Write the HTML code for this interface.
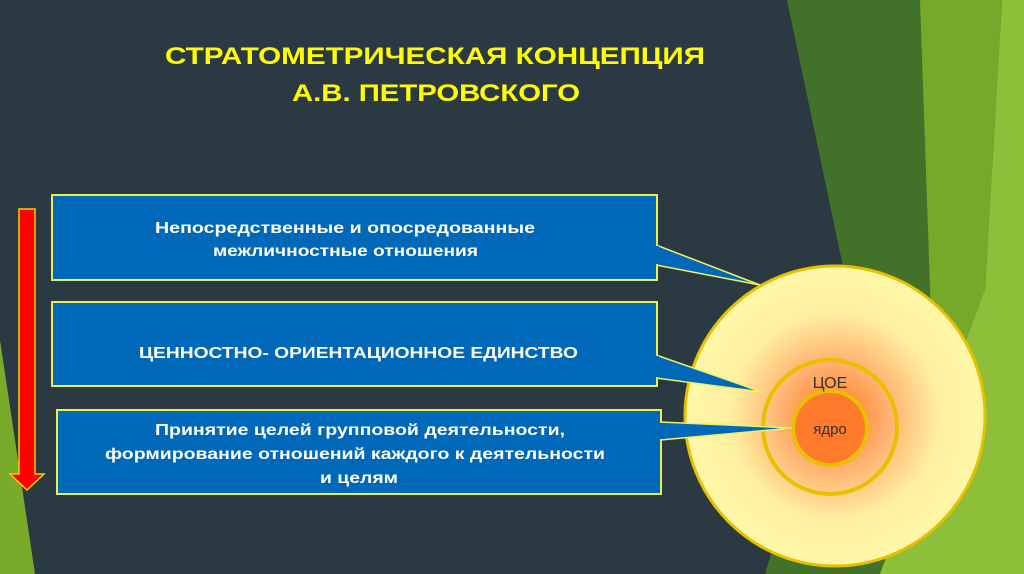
<!DOCTYPE html>
<html><head><meta charset="utf-8"><style>
html,body{margin:0;padding:0;width:1024px;height:574px;overflow:hidden;background:#2b3a42}
svg{display:block}
text{font-family:"Liberation Sans",sans-serif}
</style></head><body>
<svg width="1024" height="574" viewBox="0 0 1024 574">
<defs>
<radialGradient id="g1" cx="0.5" cy="0.5" r="0.5">
<stop offset="0" stop-color="#ff7a1a"/><stop offset="0.35" stop-color="#ffb070"/><stop offset="0.7" stop-color="#fff0a0"/><stop offset="1" stop-color="#fff8a8"/>
</radialGradient>
</defs>
<rect width="1024" height="574" fill="#2b3a42"/>
<polygon points="787,0 925,0 965,574 765,574 850,300" fill="#42722a"/>
<polygon points="920,0 1002,0 985,290 960,574 940,574" fill="#76a92a"/>
<polygon points="1002,0 1024,0 1024,574 880,574 985,290" fill="#8dc038"/>
<polygon points="0,340 35,574 0,574" fill="#7aaa2a"/>
<circle cx="835" cy="416" r="150" fill="url(#g1)" stroke="#e8c000" stroke-width="3"/>
<circle cx="830" cy="427" r="67" fill="none" stroke="#e8c000" stroke-width="4"/>
<circle cx="830" cy="428" r="37" fill="#ff7a2a" stroke="#e8c000" stroke-width="4"/>
<text x="830" y="388" font-size="16" fill="#333" text-anchor="middle">ЦОЕ</text>
<text x="830" y="434" font-size="15" fill="#333" text-anchor="middle">ядро</text>
<polygon points="656,245 760,285 656,265" fill="#0068b8" stroke="#f0f060" stroke-width="1.5"/>
<polygon points="656,355 762,392 656,378" fill="#0068b8" stroke="#f0f060" stroke-width="1.5"/>
<polygon points="660,422 792,428 660,440" fill="#0068b8" stroke="#f0f060" stroke-width="1.5"/>
<rect x="52" y="195" width="605" height="85" fill="#0068b8" stroke="#e8f050" stroke-width="2"/>
<rect x="52" y="302" width="605" height="84" fill="#0068b8" stroke="#e8f050" stroke-width="2"/>
<rect x="57" y="410" width="604" height="84" fill="#0068b8" stroke="#e8f050" stroke-width="2"/>
<rect x="653" y="246" width="6" height="18" fill="#0068b8"/>
<rect x="653" y="356" width="6" height="21" fill="#0068b8"/>
<rect x="657" y="423" width="6" height="16" fill="#0068b8"/>
<g fill="#fff" font-size="16" font-weight="bold">
<text x="155" y="233" textLength="380" lengthAdjust="spacingAndGlyphs">Непосредственные  и опосредованные</text>
<text x="213" y="256" textLength="265" lengthAdjust="spacingAndGlyphs">межличностные отношения</text>
<text x="139" y="358" textLength="439" lengthAdjust="spacingAndGlyphs">ЦЕННОСТНО- ОРИЕНТАЦИОННОЕ ЕДИНСТВО</text>
<text x="155" y="435" textLength="410" lengthAdjust="spacingAndGlyphs">Принятие целей групповой деятельности,</text>
<text x="105" y="459" textLength="500" lengthAdjust="spacingAndGlyphs">формирование отношений каждого к деятельности</text>
<text x="320" y="483" textLength="78" lengthAdjust="spacingAndGlyphs">и целям</text>
</g>
<polygon points="19,209 35,209 35,474 44,474 27,490 10,474 19,474" fill="#ff0000" stroke="#f0d000" stroke-width="1.5"/>
<g fill="#ffff00" font-size="24" font-weight="bold">
<text x="165" y="64" textLength="540" lengthAdjust="spacingAndGlyphs">СТРАТОМЕТРИЧЕСКАЯ КОНЦЕПЦИЯ</text>
<text x="292" y="101" textLength="288" lengthAdjust="spacingAndGlyphs">А.В. ПЕТРОВСКОГО</text>
</g>
</svg>
</body></html>
